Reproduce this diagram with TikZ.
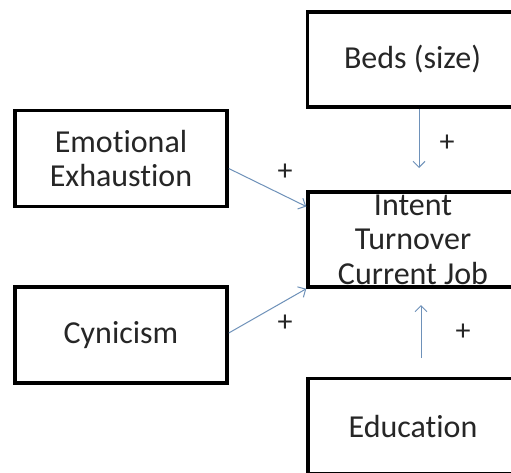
\documentclass[tikz,border=0pt]{standalone}
\usepackage{fontspec}
\setmainfont{Carlito}[Ligatures=NoCommon]
\usetikzlibrary{arrows.meta,calc}
\definecolor{arrowblue}{RGB}{110,145,185}
\begin{document}
\begin{tikzpicture}[x=1pt,y=-1pt,
  box/.style={draw=black,line width=3.5pt,inner sep=0pt,align=center,
    font=\fontsize{32}{34.5}\selectfont,text=black!85},
  smallbox/.style={box,minimum width=212pt,minimum height=96pt},
  bigbox/.style={box,minimum width=210pt,minimum height=95pt},
  conn/.style={draw=arrowblue,line width=1pt,-{Straight Barb[length=6pt,width=12pt]}},
  sign/.style={font=\fontsize{30}{30}\selectfont,inner sep=0pt,text=black!85}]
\useasboundingbox (0,0) rectangle (511,472);
\clip (0,0) rectangle (511,472);
\fill[white] (0,0) rectangle (511,472);
\node[smallbox] (emo) at (121,158.5) {Emotional\\Exhaustion};
\node[smallbox] (cyn) at (121,335) {Cynicism};
\node[bigbox] (beds) at (412.5,59.5) {Beds (size)};
\node[bigbox] (intent) at (413,239.5) {Intent\\Turnover\\Current Job};
\node[bigbox] (edu) at (413,426) {Education};
\coordinate (bedsend) at (419,168);
\coordinate (edustart) at (421,358);
\coordinate (eduend) at (421,305);
\draw[conn] ([yshift=-10pt]emo.east) -- ([yshift=33pt]intent.west);
\draw[conn] ([yshift=2pt]cyn.east) -- (intent.south west);
\draw[conn] (beds.south -| bedsend) -- (bedsend);
\draw[conn] (edustart) -- (eduend);
\node[sign] (p1) at (285,172) {+};
\node[sign] (p2) at (285,323) {+};
\node[sign] (p3) at (447,143) {+};
\node[sign] (p4) at (463,332) {+};
\end{tikzpicture}
\end{document}
